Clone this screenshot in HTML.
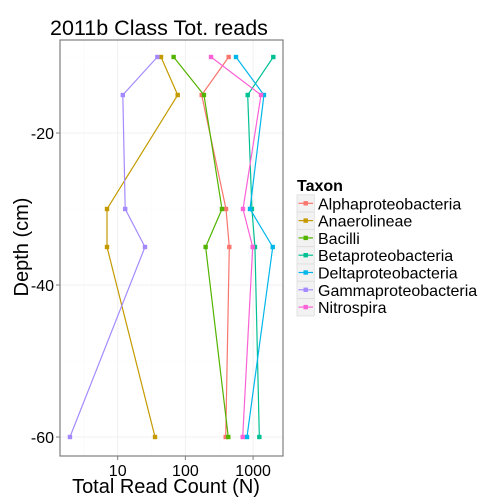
<!DOCTYPE html>
<html><head><meta charset="utf-8"><style>
body{margin:0;background:#fff;}
svg{display:block;font-family:"Liberation Sans",sans-serif;}
</style></head><body>
<svg id="chart" width="504" height="504" viewBox="0 0 504 504">
<rect width="504" height="504" fill="#fff"/>
<text x="50" y="35" font-size="21.5" fill="#000">2011b Class Tot. reads</text>
<g id="grid"></g>
<g id="series"></g>
<rect x="60" y="40" width="223" height="416" fill="none" stroke="#7f7f7f" stroke-width="1.2"/>
<g id="axes"></g>
<text x="166" y="493" font-size="20" text-anchor="middle">Total Read Count (N)</text>
<text transform="translate(28,247) rotate(-90)" font-size="20" text-anchor="middle">Depth (cm)</text>
<g id="legend"></g>
</svg>
<script>
const depths=[-10,-15,-30,-35,-60];
const taxa=["Alphaproteobacteria","Anaerolineae","Bacilli","Betaproteobacteria","Deltaproteobacteria","Gammaproteobacteria","Nitrospira"];
const colors=["#F8766D","#C49A00","#53B400","#00C094","#00B6EB","#A58AFF","#FB61D7"];
const alpha=[436,174,398,445,394];
const anaero=[43.6,77,6.95,6.95,35.6];
const bacilli=[67,188,347,199,430];
const beta=[1988,832,960,1065,1236];
const delta=[559,1446,900,1950,812];
const gamma=[38.5,11.9,12.9,25.3,1.97];
const nitro=[239,1309,709,986,702];
const seriesVals=[alpha,anaero,bacilli,beta,delta,gamma,nitro];
const xTicks=[10,100,1000];
const xTickLabels=["10","100","1000"];
const yTicks=[-20,-40,-60];
const yTickLabels=["-20","-40","-60"];
const xMinor=[3.162,31.62,316.2];
const yMinor=[-10,-30,-50];

const NS="http://www.w3.org/2000/svg";
function xs(v){return 117.7+67.7*Math.log10(v/10);}
function ys(d){return 133+(-20-d)*7.6;}
function mk(tag,attrs,parent){const e=document.createElementNS(NS,tag);for(const k in attrs)e.setAttribute(k,attrs[k]);parent.appendChild(e);return e;}
const grid=document.getElementById('grid'),ser=document.getElementById('series'),ax=document.getElementById('axes'),lg=document.getElementById('legend');
xMinor.forEach(v=>{const l=mk('line',{x1:xs(v),x2:xs(v),y1:40,y2:456,stroke:'#fafafa','stroke-width':0.6},grid);

});
yMinor.forEach(v=>{const l=mk('line',{x1:60,x2:283,y1:ys(v),y2:ys(v),stroke:'#fafafa','stroke-width':0.6},grid);

});
xTicks.forEach((v,i)=>{const l=mk('line',{x1:xs(v),x2:xs(v),y1:40,y2:456,stroke:'#f0f0f0','stroke-width':1},grid);


const t=mk('line',{x1:xs(v),x2:xs(v),y1:456,y2:460,stroke:'#7f7f7f'},ax);


const tx=mk('text',{x:xs(v),y:476,'font-size':16,'text-anchor':'middle'},ax);tx.textContent=xTickLabels[i];

});
yTicks.forEach((v,i)=>{const l=mk('line',{x1:60,x2:283,y1:ys(v),y2:ys(v),stroke:'#f0f0f0','stroke-width':1},grid);


const t=mk('line',{x1:56,x2:60,y1:ys(v),y2:ys(v),stroke:'#7f7f7f'},ax);


const tx=mk('text',{x:54,y:ys(v)+6,'font-size':16,'text-anchor':'end'},ax);tx.textContent=yTickLabels[i];

});
seriesVals.forEach((vals,si)=>{
 const g=mk('g',{},ser);
 
 
 const pts=vals.map((v,i)=>xs(v)+','+ys(depths[i])).join(' ');
 const pl=mk('polyline',{points:pts,fill:'none',stroke:colors[si],'stroke-width':1.2},g);
 
 
 vals.forEach((v,i)=>{const p=mk('rect',{x:xs(v)-2.2,y:ys(depths[i])-2.2,width:4.4,height:4.4,fill:colors[si]},g);
 
 });
});
const lt=mk('text',{x:297,y:191,'font-size':16,'font-weight':'bold'},lg);lt.textContent='Taxon';


taxa.forEach((n,i)=>{const cy=203.3+i*17.3;
 const g=mk('g',{},lg);
 
 
 mk('rect',{x:297,y:cy-8.5,width:17.3,height:17.3,fill:'#f2f2f2',stroke:'#ddd','stroke-width':0.8},g);
 mk('line',{x1:298.5,x2:313,y1:cy,y2:cy,stroke:colors[i],'stroke-width':1.2},g);
 mk('rect',{x:303.5,y:cy-2.2,width:4.4,height:4.4,fill:colors[i]},g);
 const t=mk('text',{x:318,y:cy+6,'font-size':16},g);t.textContent=n;});
</script>
</body></html>
